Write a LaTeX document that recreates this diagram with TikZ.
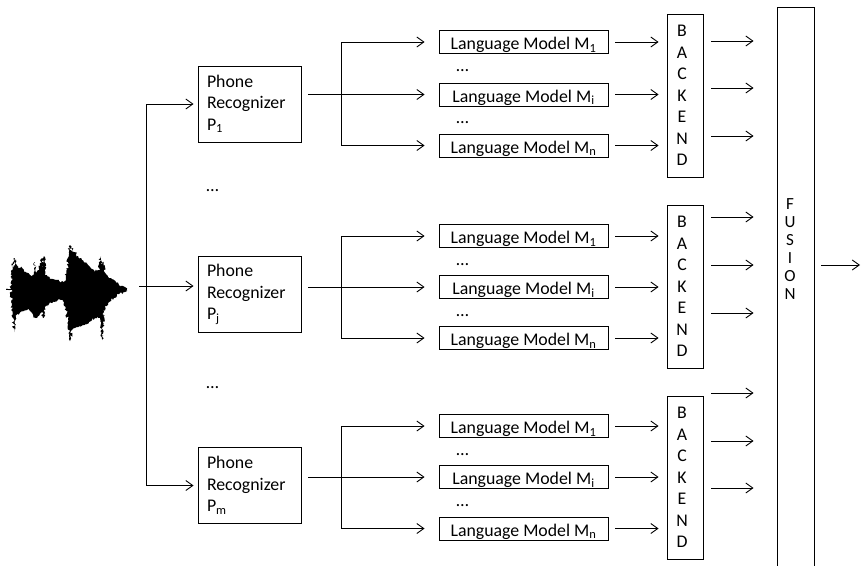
\documentclass[tikz,border=0pt]{standalone}
\usepackage{fontspec}
\setmainfont{Carlito}
\usetikzlibrary{arrows.meta,calc,decorations.pathmorphing}
\newcommand\myfs{\fontsize{17.8pt}{21.5pt}\selectfont}
\newcommand\myfsf{\fontsize{17pt}{18pt}\selectfont}
\begin{document}
\begin{tikzpicture}[x=1pt,y=-1pt,line width=0.9pt,
  arr/.style={-{Straight Barb[length=7pt,width=10pt]}},
  prbox/.style={draw,rectangle,minimum width=103pt,minimum height=76pt,text width=85pt,inner xsep=9pt,inner ysep=0pt,align=left,font=\myfs},
  lmbox/.style={draw,rectangle,minimum width=169pt,minimum height=23pt,inner sep=0pt,text height=17pt,text depth=2pt,font=\myfs},
  bebox/.style={draw,rectangle,minimum width=36pt,minimum height=163pt,inner sep=0pt},
  vtext/.style={align=center,inner sep=0pt,font=\myfs},
  dotsnode/.style={anchor=base west,inner sep=0pt,font=\myfs}]
\useasboundingbox (0,0) rectangle (861,565);

% waveform
\pgfmathsetseed{7}
\fill[black,decorate,decoration={random steps,segment length=1.3pt,amplitude=1.6pt}] (6,289) -- (11,289) -- (12,275) -- (13,262) -- (14,270) -- (15,258) -- (16,268) -- (18,266) -- (20,268) -- (22,267) -- (24,270) -- (26,272) -- (28,273) -- (30,275) -- (32,276) -- (34,272) -- (35,262) -- (36,274) -- (38,270) -- (40,266) -- (42,258) -- (43,268) -- (44,256) -- (45,270) -- (47,276) -- (50,278) -- (53,279) -- (56,280) -- (59,281) -- (62,281) -- (64,282) -- (66,278) -- (68,262) -- (69,250) -- (70,245) -- (71,252) -- (72,248) -- (74,252) -- (76,254) -- (78,256) -- (80,258) -- (82,260) -- (85,262) -- (88,265) -- (91,268) -- (94,270) -- (97,272) -- (99,270) -- (100,260) -- (101,256) -- (102,264) -- (103,262) -- (104,270) -- (106,274) -- (108,276) -- (111,278) -- (114,280) -- (117,283) -- (119,285) -- (121,287) -- (123,286) -- (125,287) -- (127,289)
 -- (125,292) -- (123,293) -- (121,292) -- (119,294) -- (117,296) -- (114,298) -- (111,300) -- (108,303) -- (106,306) -- (104,312) -- (103,330) -- (102,340) -- (101,330) -- (100,318) -- (98,316) -- (95,318) -- (92,320) -- (89,322) -- (86,324) -- (83,325) -- (80,326) -- (77,327) -- (74,328) -- (72,330) -- (71,338) -- (70,341) -- (69,332) -- (68,322) -- (66,308) -- (64,302) -- (61,300) -- (58,300) -- (55,302) -- (52,303) -- (49,304) -- (46,306) -- (44,314) -- (43,318) -- (42,312) -- (40,314) -- (38,316) -- (36,318) -- (34,316) -- (32,313) -- (30,311) -- (27,310) -- (24,310) -- (21,312) -- (18,314) -- (16,318) -- (15,326) -- (14,332) -- (13,322) -- (12,305) -- (11,289) -- cycle;
\draw[line width=0.6pt] (6,289) -- (127,289);

% fusion
\node[draw,rectangle,minimum width=37pt,minimum height=568pt,inner sep=0pt] (fus) at (795.5,291) {};
\node[vtext,font=\myfsf] (fust) at (790,249) {F\\U\\S\\I\\O\\N};
\coordinate (out) at (860,265);
\draw[arr,shorten <=7pt] (fus.east |- out) -- (out);

\foreach \g/\py/\ps/\la/\lb/\lc/\by/\fa/\fb/\fc in {
  1/104/1/42/94.5/145.5/95.5/41/88/136,
  2/294.5/j/236/287/338/286.5/217/265/313,
  3/485.5/m/426/477/528.5/477.5/393/441/488}
{
  \node[prbox] (p\g) at (249.5,\py) {Phone\\Recognizer\\P\textsubscript{\ps}};
  \node[lmbox] (lma\g) at (523.5,\la) {Language Model M\textsubscript{1}};
  \node[lmbox] (lmb\g) at (523.5,\lb) {Language Model M\textsubscript{i}};
  \node[lmbox] (lmc\g) at (523.5,\lc) {Language Model M\textsubscript{n}};
  \node[dotsnode] (da\g) at (456,\la+29) {…};
  \node[dotsnode] (db\g) at (456,\lb+29) {…};
  \node[bebox] (be\g) at (685,\by) {};
  \node[vtext] (bet\g) at ([xshift=-3pt]be\g.center) {B\\A\\C\\K\\E\\N\\D};
  \coordinate (br\g) at (341,\lb);
  \draw[shorten <=7pt] (p\g.east |- br\g) -- (br\g);
  \draw[arr,shorten >=14pt] (br\g) |- (lma\g.west);
  \draw[arr,shorten >=14pt] (br\g) -- (lmb\g.west);
  \draw[arr,shorten >=14pt] (br\g) |- (lmc\g.west);
  \draw[arr,shorten <=7pt,shorten >=8pt] (lma\g.east) -- (lma\g.east -| be\g.west);
  \draw[arr,shorten <=7pt,shorten >=8pt] (lmb\g.east) -- (lmb\g.east -| be\g.west);
  \draw[arr,shorten <=7pt,shorten >=8pt] (lmc\g.east) -- (lmc\g.east -| be\g.west);
  \draw[arr,shorten <=8pt,shorten >=23pt] (be\g.east |- 0,\fa) -- (fus.west |- 0,\fa);
  \draw[arr,shorten <=8pt,shorten >=23pt] (be\g.east |- 0,\fb) -- (fus.west |- 0,\fb);
  \draw[arr,shorten <=8pt,shorten >=23pt] (be\g.east |- 0,\fc) -- (fus.west |- 0,\fc);
}

\node[dotsnode] (pd1) at (206,191) {…};
\node[dotsnode] (pd2) at (206,388) {…};

% input
\coordinate (win) at (139,286);
\coordinate (trunk) at (146,286);
\draw[arr,shorten >=4pt] (win) -- (p2.west |- win);
\draw[arr,shorten >=4pt] (trunk) |- (p1.west);
\draw[arr,shorten >=4pt] (trunk) |- (p3.west);
\end{tikzpicture}
\end{document}
